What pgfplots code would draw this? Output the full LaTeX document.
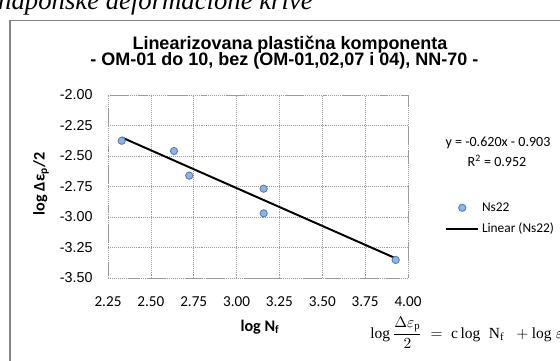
\documentclass[border=0pt]{standalone}
\usepackage{amsmath}
\usepackage{fontspec}
\setmainfont{Liberation Sans}
\setmathrm{Liberation Serif}
\newfontfamily\arialfont{Liberation Sans}
\newfontfamily\calibrifont{Carlito}
\newfontfamily\seriffont{Liberation Serif}
\usepackage{pgfplots}
\pgfplotsset{compat=1.18}

\definecolor{ptfill}{HTML}{8EB4E3}
\definecolor{ptedge}{HTML}{4A7EBB}
\definecolor{framegray}{HTML}{868686}
\definecolor{gridgray}{HTML}{9A9A9A}

\begin{document}
% 1 px of the reference = 0.025 cm
\begin{tikzpicture}
\clip (0,0) rectangle (14,9);

% chart area frame (runs off the right and bottom edges)
\draw[framegray, line width=1.1pt] (0.25,-1) -- (0.25,8.4875) -- (15,8.4875);

% caption text cut by the page top
\node[anchor=base east, inner sep=0pt, font=\seriffont\itshape\fontsize{19}{22}\selectfont]
  at (7.825,8.76) {naponske deformacione krive};

% title
\node[anchor=base, font=\arialfont\bfseries\fontsize{12.8}{14}\selectfont, inner sep=0pt]
  at (7.25,7.75) {Linearizovana plastična komponenta};
\node[anchor=base, font=\arialfont\bfseries\fontsize{12.8}{14}\selectfont, inner sep=0pt]
  at (7.11,7.35) {- OM-01 do 10, bez (OM-01,02,07 i 04), NN-70 -};

\begin{axis}[
  at={(2.7cm,2.05cm)}, anchor=south west,
  scale only axis,
  width=7.5cm, height=4.575cm,
  xmin=2.25, xmax=4.00,
  ymin=-3.50, ymax=-2.00,
  xtick={2.25,2.50,...,4.00},
  ytick={-3.50,-3.25,...,-2.00},
  grid=major,
  grid style={gridgray, densely dotted, line width=0.5pt},
  axis line style={gridgray, densely dotted, line width=0.5pt},
  tick style={draw=none},
  /pgf/number format/assume math mode=true,
  /pgf/number format/fixed,
  /pgf/number format/fixed zerofill,
  /pgf/number format/precision=2,
  xticklabel style={font=\calibrifont\fontsize{10.8}{12}\selectfont, yshift=-0.33cm},
  yticklabel style={font=\arialfont\fontsize{10.2}{12}\selectfont, xshift=-0.26cm},
  legend image code/.code={\draw[mark repeat=2,mark phase=2,#1] plot coordinates {(0cm,0cm) (0.4cm,0cm) (0.8cm,0cm)};},
  legend style={at={(1.1233,0.43)}, anchor=north west, draw=none, fill=none,
    inner sep=0pt, row sep=3pt,
    font=\calibrifont\fontsize{9.5}{11}\selectfont},
  legend cell align=left,
  clip=false,
]
\addplot[only marks, mark=*, mark size=2.6pt,
  mark options={fill=ptfill, draw=ptedge, line width=0.6pt}]
  coordinates {
    (2.330,-2.375)
    (2.635,-2.459)
    (2.724,-2.661)
    (3.158,-2.768)
    (3.158,-2.970)
    (3.928,-3.352)
  };
\addlegendentry{Ns22}

% linear trend line y = -0.620x - 0.903
\addplot[black, line width=1.4pt, mark=none]
  coordinates {(2.330,-2.3476) (3.928,-3.3384)};
\addlegendentry{Linear (Ns22)}
\end{axis}

% trendline equation
\node[font=\calibrifont\fontsize{10}{12}\selectfont] at (12.45,5.425) {y = -0.620x - 0.903};
\node[font=\calibrifont\fontsize{10}{12}\selectfont] at (12.425,4.975) {R\textsuperscript{2} = 0.952};

% axis titles
\node[font=\calibrifont\bfseries\fontsize{11.5}{13}\selectfont] at (6.5,0.825) {log N\textsubscript{f}};
\node[font=\calibrifont\bfseries\fontsize{11.5}{13}\selectfont, rotate=90] at (1.025,4.4) {log Δε\textsubscript{p}/2};

% formula below the chart (cut by the right edge)
\node[anchor=west, inner sep=0pt, font=\fontsize{11}{13}\selectfont] at (9.25,0.675)
  {$\mathrm{log}\,\dfrac{\Delta\varepsilon_{\mathrm{p}}}{2} \;=\; \mathrm{c}\,\mathrm{log}\;\;\mathrm{N}_{\mathrm{f}}\;\; + \mathrm{log}\;\varepsilon'_{\mathrm{f}}$};
\end{tikzpicture}
\end{document}
